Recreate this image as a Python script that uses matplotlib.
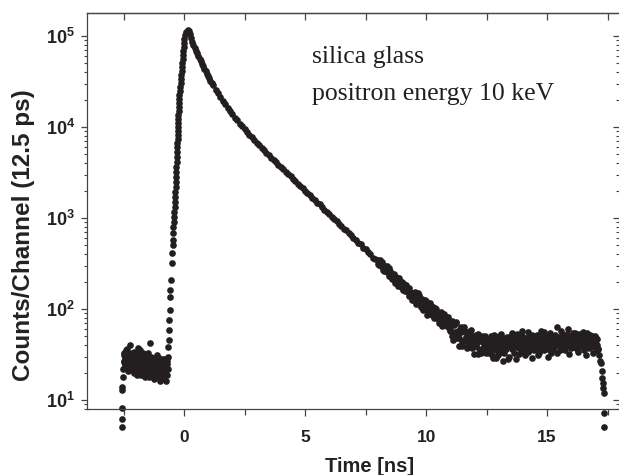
import numpy as np
import matplotlib
matplotlib.use('Agg')
import matplotlib.pyplot as plt
from matplotlib.ticker import FixedLocator, MultipleLocator, LogLocator, FuncFormatter, NullFormatter

plt.rcParams['font.family'] = ['Liberation Sans', 'DejaVu Sans']
plt.rcParams['font.weight'] = 'bold'
plt.rcParams['mathtext.fontset'] = 'custom'
plt.rcParams['mathtext.bf'] = 'Liberation Sans:bold'
plt.rcParams['mathtext.rm'] = 'Liberation Sans'

# --- data (time in ns, counts per 12.5 ps channel) ---
# leading edge of the window
edge_t = [-2.56, -2.56, -2.56, -2.555, -2.55, -2.54, -2.53]
edge_c = [5.0, 6.2, 8.2, 12.9, 13.9, 17.9, 22]

# background before the prompt peak, two interleaved channel sets
bg_left = [31, 26, 24, 29, 35, 27, 22, 30, 33, 25,
           28, 40, 24, 29, 31, 21, 27, 34, 26, 23,
           30, 28, 19, 32, 25, 27, 22, 29, 35, 24,
           26, 20, 31, 27, 23, 28, 18, 25, 30, 22,
           26, 33, 21, 24, 42, 27, 19, 23, 29, 25,
           17, 26, 22, 28, 20, 24, 31, 18, 23, 27,
           21, 16, 25, 22, 19, 28, 24, 17, 21, 26,
           23, 16, 25, 22]
bg_left_range = (-2.50, -0.68)
bg_left_b = [27, 33, 23, 28, 25, 36, 30, 21, 26, 29,
             24, 31, 27, 22, 33, 25, 29, 20, 28, 32,
             23, 26, 30, 24, 37, 21, 28, 25, 19, 30,
             27, 23, 29, 33, 22, 26, 24, 31, 20, 27,
             23, 29, 25, 18, 26, 30, 22, 27, 20, 24,
             28, 21, 25, 19, 27, 23, 20, 26, 22, 29,
             24, 19, 23, 27, 21, 25, 18, 24, 20, 28,
             26, 22, 19, 27]
bg_left_b_range = (-2.49, -0.69)

# rising edge up to the peak
rise_t = [-0.66, -0.65, -0.63, -0.62, -0.61, -0.60, -0.58, -0.57, -0.55, -0.51,
          -0.49, -0.47, -0.46, -0.45, -0.44, -0.43, -0.41, -0.40, -0.38, -0.37,
          -0.362, -0.354, -0.346, -0.338, -0.330, -0.322, -0.314, -0.306, -0.298, -0.290,
          -0.282, -0.275, -0.269, -0.262, -0.256, -0.250, -0.243, -0.237, -0.230, -0.224,
          -0.218, -0.211, -0.206, -0.190, -0.175, -0.159, -0.143, -0.128, -0.112, -0.096,
          -0.080, -0.068, -0.056, -0.044, -0.033, -0.021, -0.009, 0.01, 0.05, 0.10, 0.15]
rise_c = [30, 38, 46, 59, 76, 98, 135, 162, 209, 323,
          414, 505, 573, 687, 796, 903, 1026, 1164, 1321, 1500,
          1702, 1932, 2193, 2489, 2825, 3201, 3633, 4124, 4681, 5313,
          6030, 6668, 7378, 8163, 9031, 10000, 11070, 12250, 13550, 15000,
          16600, 18370, 20330, 22490, 24890, 27540, 30480, 33650, 37240, 41210,
          45600, 50460, 55840, 61790, 68370, 75650, 83710, 92640, 102500, 110700, 116500]

# fast part of the decay, 0.19 .. 1.19 ns every 0.05 ns
decay_fast = [114000, 104000, 94000, 86500, 80000, 74300, 69300, 64500, 60300, 56400,
              52700, 49300, 46400, 43500, 41000, 38500, 36300, 34200, 32400, 30600, 29000]
decay_fast_range = (0.19, 1.19)

# slow (o-Ps) part, 1.3 .. 7.9 ns every 0.1 ns
decay_slow = [25800, 23400, 21200, 19350, 17700, 16200, 14900,
              13750, 12700, 11800, 10900, 10200, 9470, 8830, 8240, 7700, 7210,
              6750, 6330, 5940, 5570, 5220, 4910, 4620, 4350, 4100, 3860,
              3640, 3430, 3230, 3040, 2865, 2700, 2540, 2390, 2255, 2124,
              2000, 1884, 1775, 1672, 1575, 1470, 1415, 1318, 1232, 1160,
              1112, 1028, 971, 925, 858, 821, 762, 731, 676, 650,
              598, 575, 530, 512, 470, 452, 418, 401, 368, 356]
decay_slow_range = (1.3, 7.9)

# noisy tail, 8.0 .. 12.5 ns, two interleaved channel sets
tail = [342, 306, 338, 298, 298, 260, 295, 275, 252, 279,
        229, 239, 241, 218, 195, 227, 210, 188, 204, 186,
        199, 163, 177, 160, 172, 154, 138, 154, 145, 150,
        126, 137, 124, 148, 113, 121, 104, 125, 118, 107,
        121, 86, 109, 98, 107, 85, 96, 103, 83, 82,
        90, 71, 81, 86, 74, 87, 66, 73, 63, 70,
        61, 74, 46, 66, 53, 70, 53, 39, 60, 56,
        43, 63, 44, 49, 38, 53, 43, 59, 37, 47,
        39, 52, 43, 32, 46, 48, 34, 43, 37, 51, 39]
tail_range = (8.0, 12.5)
tail_b = [312, 345, 304, 331, 271, 297, 264, 300, 257, 231,
          261, 215, 239, 243, 206, 214, 181, 218, 188, 199,
          170, 186, 157, 184, 156, 170, 144, 151, 127, 147,
          152, 114, 138, 117, 143, 115, 129, 97, 116, 124,
          98, 111, 90, 117, 93, 105, 79, 93, 100, 78,
          91, 79, 93, 65, 80, 66, 81, 66, 82, 57,
          70, 50, 70, 56, 72, 48, 58, 48, 64, 39,
          57, 46, 58, 37, 50, 40, 58, 44, 50, 32,
          51, 40, 53, 36, 45, 33, 50, 39, 46, 33, 44]
tail_b_range = (8.025, 12.525)

# background after the decay, two interleaved channel sets
bg_right = [38, 45, 33, 41, 50, 36, 29, 44, 40, 35,
            47, 31, 42, 38, 53, 34, 40, 27, 45, 39,
            36, 49, 42, 30, 44, 38, 55, 41, 33, 46,
            40, 28, 43, 48, 37, 45, 34, 51, 39, 42,
            31, 47, 44, 38, 56, 41, 35, 46, 29, 43,
            49, 40, 37, 52, 44, 33, 47, 42, 58, 38,
            45, 35, 50, 41, 46, 30, 43, 54, 39, 48,
            44, 36, 51, 42, 47, 33, 45, 49, 40, 57,
            43, 38, 52, 46, 35, 48, 44, 60, 41, 47,
            37, 50, 45, 42, 55, 39, 48, 34, 46, 53,
            44, 49, 40, 56, 43, 47, 31, 50, 45, 42,
            52, 38, 46, 48, 33, 44, 50, 41, 47, 36]
bg_right_range = (12.54, 17.1)
bg_right_b = [42, 35, 47, 39, 31, 44, 52, 37, 41, 29,
              45, 38, 50, 34, 43, 40, 48, 33, 41, 46,
              37, 44, 28, 47, 41, 51, 36, 43, 39, 49,
              45, 38, 53, 40, 32, 46, 42, 57, 36, 44,
              48, 39, 45, 34, 50, 43, 38, 47, 52, 41,
              35, 46, 49, 40, 31, 45, 51, 43, 37, 48,
              42, 56, 39, 47, 44, 36, 50, 41, 46, 33,
              49, 45, 38, 52, 43, 63, 40, 47, 35, 46,
              51, 42, 37, 48, 44, 39, 53, 45, 32, 49,
              46, 41, 54, 38, 47, 43, 50, 36, 45, 42,
              48, 39, 52, 44, 35, 49, 46, 40, 55, 43,
              37, 47, 42, 51, 45, 39, 44, 48, 35, 40]
bg_right_b_range = (12.56, 17.08)

# trailing edge of the window
end_t = [17.12, 17.16, 17.19, 17.22, 17.25, 17.27, 17.29, 17.31, 17.33, 17.35, 17.37]
end_c = [36, 31, 27, 25.5, 21, 17.4, 15.4, 13.5, 11.9, 7.2, 5.0]

x_major = [0, 5, 10, 15]
x_step = 2.5
xlabel = 'Time [ns]'
ylabel = 'Counts/Channel (12.5 ps)'
notes = ['silica glass', 'positron energy 10 keV']


def on_grid(vals, rng):
    return np.linspace(rng[0], rng[1], len(vals)), vals


segments = [
    (edge_t, edge_c),
    on_grid(bg_left, bg_left_range),
    on_grid(bg_left_b, bg_left_b_range),
    (rise_t, rise_c),
    on_grid(decay_fast, decay_fast_range),
    on_grid(decay_slow, decay_slow_range),
    on_grid(tail, tail_range),
    on_grid(tail_b, tail_b_range),
    on_grid(bg_right, bg_right_range),
    on_grid(bg_right_b, bg_right_b_range),
    (end_t, end_c),
]

fig = plt.figure(figsize=(6.19, 4.75), dpi=100)
ax = fig.add_axes([87 / 619, 1 - 409 / 475, 532 / 619, 396 / 475])

for t, c in segments:
    ax.plot(t, c, ls='none', marker='o', ms=4.8, mew=0, color='#231f20', clip_on=False)

ax.set_yscale('log')
ax.set_xlim(-4.01, 17.97)
ax.set_ylim(7.96, 1.79e5)

spine_col = '#444444'
for side in ['left', 'bottom', 'top']:
    ax.spines[side].set_color(spine_col)
    ax.spines[side].set_linewidth(0.9)
ax.spines['right'].set_visible(False)

ax.xaxis.set_major_locator(FixedLocator(x_major))
ax.xaxis.set_minor_locator(MultipleLocator(x_step))
ax.yaxis.set_major_locator(LogLocator(base=10, numticks=10))
ax.yaxis.set_minor_locator(LogLocator(base=10, subs=np.arange(2, 10), numticks=20))
ax.yaxis.set_major_formatter(FuncFormatter(lambda v, p: r'$\mathbf{10^{%d}}$' % round(np.log10(v))))
ax.yaxis.set_minor_formatter(NullFormatter())

ax.tick_params(axis='x', which='major', direction='out', length=5, width=0.9, pad=10,
               labelsize=12.5, colors=spine_col, labelcolor='#222222', top=False)
ax.tick_params(axis='x', which='minor', direction='out', length=4, width=0.9,
               colors=spine_col, top=False)
ax.tick_params(axis='y', which='major', direction='out', length=4.5, width=0.9, pad=4,
               labelsize=13, colors=spine_col, labelcolor='#222222', right=False)
ax.tick_params(axis='y', which='minor', direction='out', length=2.5, width=0.8,
               colors=spine_col, right=False)

top = ax.secondary_xaxis('top')
top.xaxis.set_major_locator(MultipleLocator(x_step))
top.tick_params(direction='in', length=5, width=0.9, colors=spine_col, labeltop=False)
top.spines['top'].set_color(spine_col)
top.spines['top'].set_linewidth(0.9)

right = ax.secondary_yaxis('right')
right.yaxis.set_major_locator(LogLocator(base=10, numticks=10))
right.yaxis.set_minor_locator(LogLocator(base=10, subs=np.arange(2, 10), numticks=20))
right.yaxis.set_minor_formatter(NullFormatter())
right.tick_params(which='major', direction='in', length=4.5, width=0.9, colors=spine_col, labelright=False)
right.tick_params(which='minor', direction='in', length=2.5, width=0.8, colors=spine_col)
right.spines['right'].set_visible(False)

ax.set_xlabel(xlabel, fontsize=14.5, fontweight='bold', color='#222222')
ax.xaxis.set_label_coords(0.532, -0.12)
ax.set_ylabel(ylabel, fontsize=17.5, fontweight='bold', color='#222222')
ax.yaxis.set_label_coords(-0.097, 0.44)

ax.text(0.423, 0.874, notes[0], transform=ax.transAxes, family='Liberation Serif',
        fontweight='normal', fontsize=18.5, va='baseline', color='#231f20')
ax.text(0.423, 0.780, notes[1], transform=ax.transAxes, family='Liberation Serif',
        fontweight='normal', fontsize=18.5, va='baseline', color='#231f20')

fig.savefig('out.png', dpi=100)
